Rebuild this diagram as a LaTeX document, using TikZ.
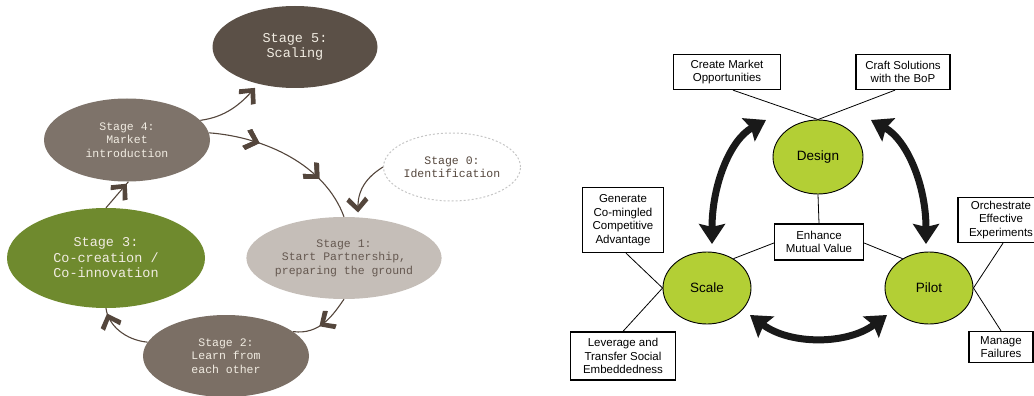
\documentclass[tikz,border=0pt]{standalone}
\usepackage{fontspec}
\setmainfont{Liberation Sans}
\newfontfamily\stagefont{Liberation Mono}
\usetikzlibrary{arrows.meta,decorations.markings,shapes.geometric}
\definecolor{sfive}{HTML}{5B5047}
\definecolor{sfour}{HTML}{7E736A}
\definecolor{stwo}{HTML}{7B6F65}
\definecolor{sthree}{HTML}{6F8A2E}
\definecolor{sone}{HTML}{C5BEB8}
\definecolor{linebrown}{HTML}{54463C}
\definecolor{cream}{HTML}{F1ECE2}
\definecolor{lime}{HTML}{B3CF35}
\tikzset{
  stage/.style={ellipse, inner sep=0pt, align=center, font=\stagefont\fontsize{11.5}{13.5}\selectfont, text=cream},
  flow/.style={draw=linebrown, line width=1.1pt},
  chev/.style={decoration={markings, mark=at position #1 with {\fill[linebrown] (1.5pt,0pt) -- (-10pt,11pt) -- (-14pt,8pt) -- (-5pt,0pt) -- (-14pt,-8pt) -- (-10pt,-11pt) -- cycle;}}, postaction={decorate}},
  blob/.style={ellipse, draw=black, line width=0.9pt, fill=lime, inner sep=0pt, font=\fontsize{13.5}{15}\selectfont},
  tag/.style={draw=black, line width=1.3pt, fill=white, align=center, inner sep=0pt, font=\fontsize{11.5}{13.5}\selectfont},
  link/.style={draw=black, line width=0.8pt},
  bigarrow/.style={draw=black!90, line width=7pt, {Stealth[length=20pt,width=26pt,inset=3pt]}-{Stealth[length=20pt,width=26pt,inset=3pt]}}
}
\begin{document}
\begin{tikzpicture}[x=1pt,y=-1pt]
\useasboundingbox (0,0) rectangle (1034,396);
\clip (0,0) rectangle (1034,396);
% ---------- left diagram ----------
\node[stage, fill=sfive, minimum width=165, minimum height=82, font=\stagefont\fontsize{13.5}{15.5}\selectfont] (s5) at (295,47) {Stage 5:\\Scaling};
\node[stage, fill=sfour, minimum width=166, minimum height=83] (s4) at (127,140) {Stage 4:\\Market\\introduction};
\node[stage, draw=gray!45, dashed, line width=1pt, dash pattern=on 2pt off 2pt, minimum width=137, minimum height=68, text=linebrown] (s0) at (452,167) {Stage 0:\\Identification};
\node[stage, fill=sthree, minimum width=198, minimum height=100, font=\stagefont\fontsize{13.5}{15.5}\selectfont, text=cream] (s3) at (106,258) {Stage 3:\\Co-creation /\\Co-innovation};
\node[stage, fill=sone, minimum width=166, minimum height=82, text=linebrown!90] (s1) at (344,258) {Stage 1:\\Start Partnership,\\preparing the ground};
\node[stage, fill=stwo, minimum width=166, minimum height=82] (s2) at (226,356) {Stage 2:\\Learn from\\each other};

\coordinate (a5) at (254,89);
\draw[flow, chev=1] (s4.15) .. controls (225,117) and (240,105) .. (a5);
\draw[flow, chev=0.3, chev=0.72] (s4.5) .. controls (265,137) and (325,165) .. (s1.north);
\coordinate (a0) at (358,211);
\draw[flow, chev=1] (s0.west) .. controls (362,180) and (357,195) .. (a0);
\draw[flow, chev=0.55] (s1.south) .. controls (333,315) and (320,335) .. (s2.20);
\draw[flow, chev=0.88] (s2.170) .. controls (125,340) and (108,325) .. (s3.south);
\draw[flow, chev=0.88] (s3.north) -- (s4.-88);

% ---------- right diagram ----------
\node[blob, minimum width=90, minimum height=74] (design) at (818,157) {Design};
\node[blob, minimum width=88, minimum height=72] (scale) at (707,288) {Scale};
\node[blob, minimum width=88, minimum height=72] (pilot) at (929,288) {Pilot};

\node[tag, minimum width=107, minimum height=35] (cmo) at (727,72) {Create Market\\Opportunities};
\node[tag, minimum width=94, minimum height=35] (csb) at (903,72) {Craft Solutions\\with the BoP};
\node[tag, minimum width=81, minimum height=65] (gen) at (623,220) {Generate\\Co-mingled\\Competitive\\Advantage};
\node[tag, minimum width=89, minimum height=36] (emv) at (819,242) {Enhance\\Mutual Value};
\node[tag, minimum width=86, minimum height=45] (orc) at (1001,220) {Orchestrate\\Effective\\Experiments};
\node[tag, minimum width=64, minimum height=31] (mf) at (1001,347) {Manage\\Failures};
\node[tag, minimum width=105, minimum height=48] (lev) at (623,356) {Leverage and\\Transfer Social\\Embeddedness};

\draw[link] ([xshift=6pt]cmo.south) -- (design.north);
\draw[link] ([xshift=-8pt]csb.south) -- (design.north);
\draw[link] (design.south) -- (emv.north);
\draw[link] ([yshift=-1pt]emv.west) -- (scale.48);
\draw[link] ([yshift=-1pt]emv.east) -- (pilot.132);
\draw[link] ([xshift=3pt]gen.south) -- (scale.west);
\draw[link] (lev.north) -- (scale.west);
\draw[link] ([xshift=2pt]orc.south) -- (pilot.east);
\draw[link] (mf.north) -- (pilot.east);

\coordinate (la) at (766,120);
\coordinate (lb) at (712,244);
\coordinate (ra) at (871,120);
\coordinate (rb) at (926,244);
\coordinate (ba) at (750,315);
\coordinate (bb) at (887,315);
\draw[bigarrow] (la) .. controls (730,140) and (712,185) .. (lb);
\draw[bigarrow] (ra) .. controls (907,140) and (926,185) .. (rb);
\draw[bigarrow] (ba) .. controls (790,345) and (847,345) .. (bb);
\end{tikzpicture}
\end{document}
